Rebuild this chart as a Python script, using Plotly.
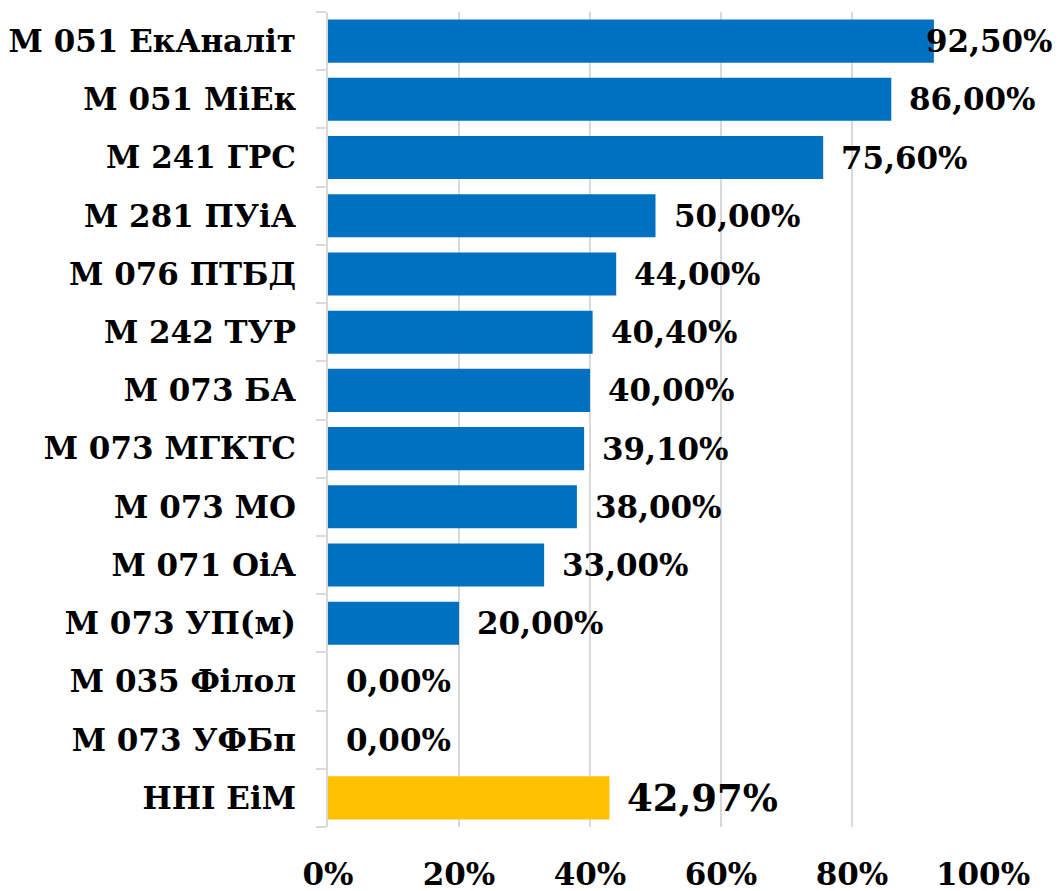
import plotly.graph_objects as go

# data (top to bottom)
programs = ['М 051 ЕкАналіт', 'М 051 МіЕк', 'М 241 ГРС', 'М 281 ПУіА', 'М 076 ПТБД',
            'М 242 ТУР', 'М 073 БА', 'М 073 МГКТС', 'М 073 МО', 'М 071 ОіА',
            'М 073 УП(м)', 'М 035 Філол', 'М 073 УФБп', 'ННІ ЕіМ']
shares = [92.5, 86.0, 75.6, 50.0, 44.0, 40.4, 40.0, 39.1, 38.0, 33.0, 20.0, 0.0, 0.0, 42.97]
x_ticks = [0, 20, 40, 60, 80, 100]

BLUE = '#0070C0'
GOLD = '#FFC000'
GRID = '#d9d9d9'
FONT = 'DejaVu Serif'

colors = [GOLD if p.startswith('ННІ') else BLUE for p in programs]

fig = go.Figure()
fig.add_trace(go.Bar(
    x=shares,
    y=programs,
    orientation='h',
    marker=dict(color=colors, line=dict(width=0)),
    hoverinfo='skip',
))

# value labels, written with comma decimals as in the source
for name, val in zip(programs, shares):
    total = name.startswith('ННІ')
    shift = -10 if val > 90 else 16
    fig.add_annotation(
        x=val, y=name,
        text=f'{val:.2f}%'.replace('.', ','),
        showarrow=False,
        xanchor='left',
        xshift=shift,
        font=dict(family=FONT, size=37 if total else 31, color='black', weight='bold'),
    )

# page body has an 8px margin, so the figure is a bit smaller than the window
fig.update_layout(
    width=1053, height=883,
    margin=dict(l=320, r=78, t=4, b=64, autoexpand=False),
    paper_bgcolor='white',
    plot_bgcolor='white',
    bargap=0.26,
    showlegend=False,
    font=dict(family=FONT, size=31, color='black', weight='bold'),
)

fig.update_xaxes(
    range=[0, 100],
    tickvals=x_ticks,
    ticktext=[f'{t}%' for t in x_ticks],
    showgrid=True, gridcolor=GRID, gridwidth=1.5,
    zeroline=False,
    showline=False,
    ticks='',
    automargin=False,
    ticklabelstandoff=26,
    tickfont=dict(family=FONT, size=31, color='black', weight='bold'),
)

fig.update_yaxes(
    categoryorder='array',
    categoryarray=programs[::-1],
    showline=True, linecolor=GRID, linewidth=1.5,
    ticks='outside', tickson='boundaries', ticklen=10, tickcolor=GRID, tickwidth=1.5,
    showgrid=False,
    automargin=False,
    ticklabelstandoff=24,
    tickfont=dict(family=FONT, size=31, color='black', weight='bold'),
)

fig.write_html('out.html')
